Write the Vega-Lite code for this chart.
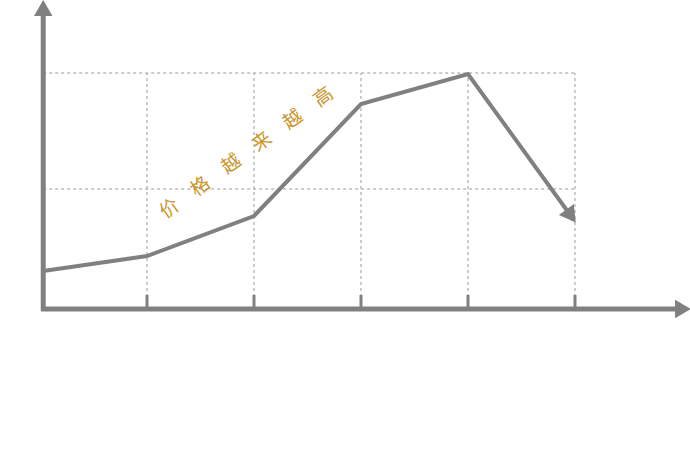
{
  "$schema": "https://vega.github.io/schema/vega-lite/v6.json",
  "width": 690,
  "height": 469,
  "autosize": "none",
  "padding": 0,
  "background": "white",
  "config": {"view": {"stroke": null}},
  "datasets": {
    "price": [
      {"x": 0.03, "y": 38},
      {"x": 1, "y": 53},
      {"x": 2, "y": 93},
      {"x": 3, "y": 205},
      {"x": 4, "y": 235},
      {"x": 4.99, "y": 89}
    ],
    "hgrid": [
      {"x": 0.03, "x2": 5, "y": 236},
      {"x": 0.03, "x2": 5, "y": 120}
    ],
    "vgrid": [
      {"x": 1, "y": 0, "y2": 236},
      {"x": 2, "y": 0, "y2": 236},
      {"x": 3, "y": 0, "y2": 236},
      {"x": 4, "y": 0, "y2": 236},
      {"x": 5, "y": 0, "y2": 236}
    ],
    "ticks": [
      {"x": 1, "y": 0, "y2": 14},
      {"x": 2, "y": 0, "y2": 14},
      {"x": 3, "y": 0, "y2": 14},
      {"x": 4, "y": 0, "y2": 14},
      {"x": 5, "y": 0, "y2": 14}
    ],
    "yaxis": [{"x": 0.03, "y": -2, "y2": 298}],
    "xaxis": [{"x": 0.01, "x2": 5.95, "y": 0}],
    "heads": [
      {"x": 0.03, "y": 301, "angle": 0},
      {"x": 6.01, "y": 0, "angle": 90},
      {"x": 4.963, "y": 93, "angle": 144}
    ],
    "label": [{"x": 1.93, "y": 156, "text": "价　格　越　来　越　高"}]
  },
  "encoding": {
    "x": {"field": "x", "type": "quantitative", "scale": {"domain": [-0.374, 6.075], "nice": false, "zero": false}, "axis": null},
    "y": {"field": "y", "type": "quantitative", "scale": {"domain": [-160, 309], "nice": false, "zero": false}, "axis": null}
  },
  "layer": [
    {
      "data": {"name": "hgrid"},
      "mark": {"type": "rule", "color": "#999999", "strokeWidth": 1, "strokeDash": [3, 3]},
      "encoding": {"x2": {"field": "x2"}}
    },
    {
      "data": {"name": "vgrid"},
      "mark": {"type": "rule", "color": "#999999", "strokeWidth": 1, "strokeDash": [3, 3]},
      "encoding": {"y2": {"field": "y2"}}
    },
    {
      "data": {"name": "ticks"},
      "mark": {"type": "rule", "color": "#808080", "strokeWidth": 3},
      "encoding": {"y2": {"field": "y2"}}
    },
    {
      "data": {"name": "yaxis"},
      "mark": {"type": "rule", "color": "#808080", "strokeWidth": 5},
      "encoding": {"y2": {"field": "y2"}}
    },
    {
      "data": {"name": "xaxis"},
      "mark": {"type": "rule", "color": "#808080", "strokeWidth": 5},
      "encoding": {"x2": {"field": "x2"}}
    },
    {
      "data": {"name": "price"},
      "mark": {"type": "line", "color": "#808080", "strokeWidth": 4},
      "encoding": {}
    },
    {
      "data": {"name": "heads"},
      "mark": {"type": "point", "shape": "triangle-up", "filled": true, "color": "#808080", "opacity": 1, "size": 340},
      "encoding": {"angle": {"field": "angle", "type": "quantitative", "scale": null}}
    },
    {
      "data": {"name": "label"},
      "mark": {"type": "text", "angle": -36, "align": "center", "baseline": "middle", "font": "Noto Sans CJK SC", "fontSize": 19, "color": "#c9962f"},
      "encoding": {"text": {"field": "text"}}
    }
  ]
}
